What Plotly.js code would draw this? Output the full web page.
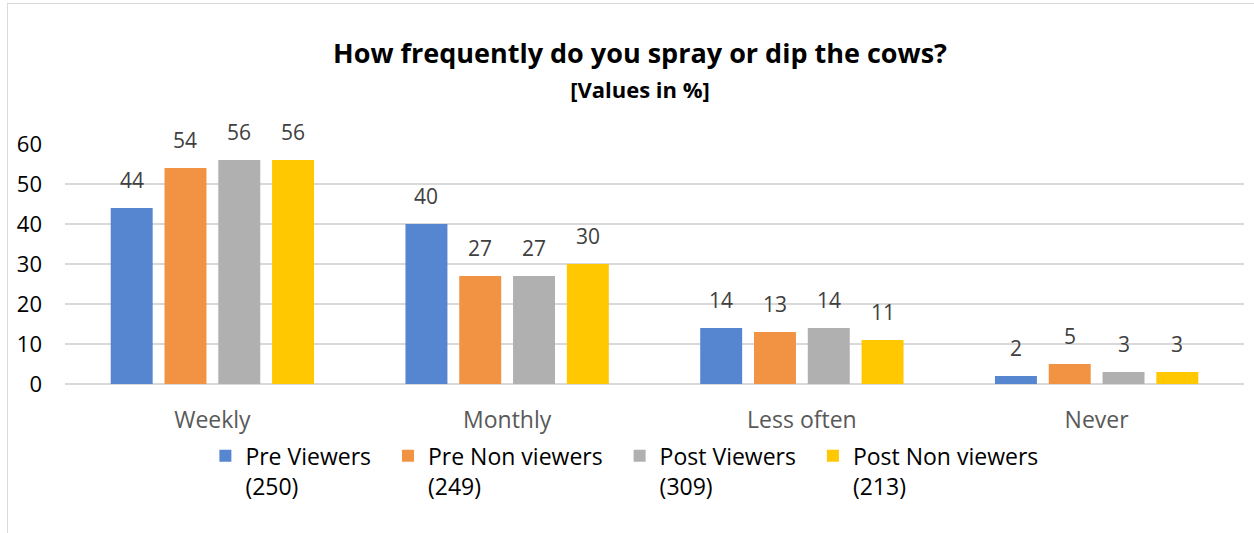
<!DOCTYPE html>
<html><head><meta charset="utf-8">
<script src="https://cdn.plot.ly/plotly-3.0.1.min.js"></script>
<style>
body{margin:0;padding:0;background:#fff;overflow:hidden}
#wrap{position:relative;width:1254px;height:533px}
#chart{position:absolute;left:0;top:0;width:1254px;height:533px}
#frame{position:absolute;left:7px;top:3px;width:1260px;height:540px;border:1px solid #d9d9d9;pointer-events:none}
</style></head>
<body>
<div id="wrap"><div id="chart"></div><div id="frame"></div></div>
<script>
const categories = ["Weekly", "Monthly", "Less often", "Never"];
const seriesNames = ["Pre Viewers<br>(250)", "Pre Non viewers<br>(249)", "Post Viewers<br>(309)", "Post Non viewers<br>(213)"];
const preViewers = [44, 40, 14, 2];
const preNonViewers = [54, 27, 13, 5];
const postViewers = [56, 27, 14, 3];
const postNonViewers = [56, 30, 11, 3];
const yTicks = [0, 10, 20, 30, 40, 50, 60];

const seriesValues = [preViewers, preNonViewers, postViewers, postNonViewers];
const colors = ["#5586CF", "#F29343", "#B0B0B0", "#FFC800"];
const FONT = "'Open Sans', sans-serif";

const traces = seriesValues.map((vals, i) => ({
  type: "bar",
  name: seriesNames[i].replace("<br>", "&nbsp;&nbsp;<br>"),
  x: categories,
  y: vals,
  marker: {color: colors[i]},
  hoverinfo: "x+y"
}));

const bargap = 0.27, bargroupgap = 0.22;
const plotW = 1180, nCat = categories.length;
const catW = plotW / nCat;
const slot = catW * (1 - bargap) / seriesValues.length;
const annotations = [];
seriesValues.forEach((vals, i) => {
  const off = (i - (seriesValues.length - 1) / 2) * slot;
  vals.forEach((v, j) => {
    annotations.push({
      x: categories[j], y: v, xref: "x", yref: "y",
      text: String(v), showarrow: false,
      xshift: off, yanchor: "bottom", yshift: 12,
      font: {family: FONT, size: 21, color: "#404040"}
    });
  });
});

const layout = {
  width: 1254, height: 533,
  paper_bgcolor: "rgba(0,0,0,0)", plot_bgcolor: "#fff",
  margin: {l: 64.5, r: 9.5, t: 144, b: 149},
  barmode: "group", bargap: bargap, bargroupgap: bargroupgap,
  title: {
    text: "<b>How frequently do you spray or dip the cows?</b><br><span style='font-size:22px'><b>[Values in %]</b></span>",
    x: 640/1254, xref: "container", xanchor: "center",
    y: 1 - 63/533, yref: "container", yanchor: "top",
    font: {family: FONT, size: 27, color: "#000"}
  },
  xaxis: {
    type: "category", showline: false, ticks: "",
    tickfont: {family: FONT, size: 23, color: "#595959"},
    ticklabelstandoff: 20
  },
  yaxis: {
    range: [0, 60], tickvals: yTicks, ticks: "",
    showgrid: true, gridcolor: "#d9d9d9", gridwidth: 1.5,
    zeroline: true, zerolinecolor: "#d9d9d9", zerolinewidth: 1.5,
    tickfont: {family: FONT, size: 22, color: "#000"},
    ticklabelstandoff: 22
  },
  legend: {
    orientation: "h", x: (205 - 64.5) / 1180, xanchor: "left",
    y: -0.21, yanchor: "top", valign: "top",
    font: {family: FONT, size: 23, color: "#000"},
    itemwidth: 20, traceorder: "normal"
  },
  annotations: annotations,
  showlegend: true
};

Plotly.newPlot("chart", traces, layout, {displayModeBar: false, staticPlot: true});
</script>
</body></html>
